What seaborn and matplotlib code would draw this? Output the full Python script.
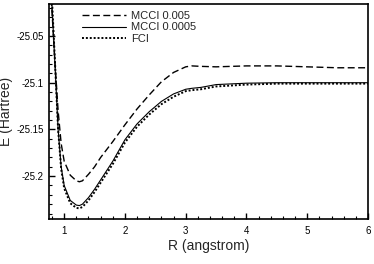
import matplotlib
matplotlib.use("Agg")
import matplotlib.pyplot as plt
import matplotlib.ticker as mticker
import seaborn as sns
import pandas as pd

R = [0.75, 0.8, 0.85, 0.9, 0.95, 1.0, 1.1, 1.2, 1.25, 1.3, 1.4, 1.5, 1.6, 1.8,
     2.0, 2.2, 2.4, 2.6, 2.8, 3.0, 3.1, 3.25, 3.5, 4.0, 4.5, 5.0, 5.5, 6.0]
mcci_005 = [-24.975, -25.025, -25.080, -25.130, -25.165, -25.184, -25.199, -25.205, -25.206,
            -25.205, -25.198, -25.190, -25.180, -25.163, -25.145, -25.128, -25.113, -25.099,
            -25.089, -25.083, -25.082, -25.0825, -25.083, -25.082, -25.082, -25.083, -25.084, -25.084]
mcci_0005 = [-24.965, -25.018, -25.083, -25.150, -25.190, -25.210, -25.226, -25.231, -25.2315,
             -25.230, -25.223, -25.214, -25.204, -25.184, -25.161, -25.144, -25.131, -25.120,
             -25.112, -25.107, -25.106, -25.105, -25.102, -25.1005, -25.100, -25.100, -25.100, -25.100]
fci = [-24.955, -25.012, -25.080, -25.150, -25.192, -25.213, -25.229, -25.234, -25.2345,
       -25.233, -25.226, -25.217, -25.207, -25.187, -25.164, -25.147, -25.134, -25.123,
       -25.115, -25.109, -25.108, -25.107, -25.104, -25.102, -25.101, -25.101, -25.101, -25.101]
labels = ["MCCI 0.005", "MCCI 0.0005", "FCI"]

sns.set_style("ticks")
plt.rcParams['font.family'] = ['Liberation Sans', 'DejaVu Sans']

fig = plt.figure(figsize=(3.74, 2.64), dpi=100)
ax = fig.add_axes([0.131, 0.170, 0.853, 0.815])

df = pd.DataFrame({"R": R, labels[0]: mcci_005, labels[1]: mcci_0005, labels[2]: fci})
styles = [dict(linestyle=(0, (5, 2.5)), linewidth=1.0),
          dict(linestyle='-', linewidth=0.8),
          dict(linestyle=(0, (1, 1)), linewidth=1.4)]
for lab, st in zip(labels, styles):
    sns.lineplot(data=df, x="R", y=lab, ax=ax, color="black", label=lab, **st)

ax.set_xlim(0.75, 6)
ax.set_ylim(-25.246, -25.0157)
ax.xaxis.set_major_locator(mticker.MultipleLocator(1))
ax.xaxis.set_minor_locator(mticker.MultipleLocator(0.2))
ax.yaxis.set_major_locator(mticker.MultipleLocator(0.05))
ax.yaxis.set_minor_locator(mticker.MultipleLocator(0.01))
ax.yaxis.set_major_formatter(mticker.FuncFormatter(lambda v, p: ("%g" % round(v, 4)).replace("\u2212", "-")))
ax.xaxis.set_major_formatter(mticker.FuncFormatter(lambda v, p: "%g" % v))
ax.tick_params(which='both', direction='in', labelsize=7, colors='black')
ax.tick_params(which='major', length=4, width=1)
ax.tick_params(which='minor', length=2, width=0.8)
ax.tick_params(axis='x', pad=5)
ax.tick_params(axis='y', pad=4)
for s in ax.spines.values():
    s.set_linewidth(1.2)
    s.set_color('black')
ax.set_xlabel("R (angstrom)", fontsize=10, labelpad=2)
ax.set_ylabel("E (Hartree)", fontsize=10)
ax.yaxis.set_label_coords(-0.112, 0.5)
leg = ax.legend(loc='upper left', bbox_to_anchor=(0.072, 1.015), frameon=False, fontsize=8,
                handlelength=4.0, labelspacing=0.15, handletextpad=0.4)
fig.savefig("out.png", dpi=100)
